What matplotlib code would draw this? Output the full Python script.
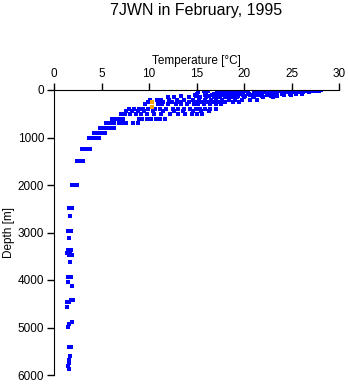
import matplotlib
matplotlib.use('Agg')
import matplotlib.pyplot as plt

plt.rcParams['font.family'] = ['Liberation Sans', 'DejaVu Sans']

# standard depth levels [m] and the temperatures seen at each [degC]
levels = [0, 10, 20, 30, 50, 75, 100, 125, 150, 200, 250, 300, 400, 450,
          500, 600, 700, 800, 900, 1000, 1250, 1500, 2000]
temps = [
    [17.6, 18.0, 18.4, 18.8, 19.2, 19.6, 20.0, 21.4, 22.6, 23.0, 23.8, 24.2,
     24.6, 25.0, 25.4, 25.8, 26.2, 26.6, 27.0, 27.4, 27.8, 28.1],
    [18.2, 18.6, 19.0, 19.4, 22.0, 23.3, 24.0, 24.8, 25.2, 25.6, 26.0, 26.4,
     26.8, 27.2, 27.6, 28.0],
    [15.8, 16.2, 18.0, 18.5, 19.3, 19.9, 21.2, 22.4, 23.6, 24.4, 25.0, 25.5,
     26.0, 26.5, 27.0, 27.5, 27.9],
    [17.5, 18.8, 19.5, 20.3, 22.8, 23.9, 25.2, 26.3, 27.3],
    [15.2, 16.0, 17.2, 17.7, 18.2, 18.7, 19.1, 19.6, 20.4, 21.0, 21.6, 22.2,
     22.9, 23.5, 24.1, 24.6, 25.1, 25.7, 26.2, 26.8],
    [15.0, 16.8, 17.4, 18.0, 18.6, 19.2, 19.8, 20.5, 21.3, 21.9, 22.5, 23.2,
     24.0, 24.8, 25.5, 26.1],
    [14.8, 15.9, 16.6, 17.1, 17.6, 18.1, 18.7, 19.3, 19.9, 20.6, 21.5, 22.4,
     23.4, 24.2, 24.9],
    [13.4, 14.9, 16.3, 17.0, 17.5, 18.2, 18.8, 19.4, 20.1, 20.9, 21.9, 22.8,
     23.5],
    [12.0, 12.6, 14.2, 15.4, 16.0, 16.8, 17.4, 18.0, 18.6, 19.3, 20.0, 21.0,
     22.0, 23.0],
    [10.1, 10.8, 11.3, 12.1, 12.9, 13.7, 14.6, 15.3, 15.9, 16.5, 17.1, 17.7,
     18.4, 19.1, 19.8, 20.6, 21.4],
    [9.9, 11.0, 11.5, 12.4, 13.3, 14.2, 14.9, 15.5, 16.1, 16.7, 17.3, 18.0,
     18.8, 19.5],
    [9.6, 10.9, 11.4, 12.0, 12.8, 13.4, 14.0, 14.7, 15.2, 15.8, 16.4, 17.0,
     17.6],
    [7.9, 8.4, 8.9, 9.4, 9.9, 10.6, 11.2, 11.8, 12.5, 13.1, 13.7, 14.3, 14.9,
     15.4, 15.9, 16.4, 17.0],
    [7.6, 8.2, 8.8, 9.5, 10.4, 11.5, 12.6, 13.6, 14.6, 15.5, 16.3],
    [7.0, 7.5, 8.0, 8.6, 9.2, 9.8, 10.5, 11.3, 12.2, 13.0, 13.8, 14.5, 15.1,
     15.6],
    [6.1, 6.5, 6.9, 7.3, 8.9, 9.3, 9.8, 10.2, 10.7, 11.2, 11.7],
    [5.5, 5.9, 6.3, 6.8, 7.2, 7.6, 8.3, 8.8],
    [4.8, 5.2, 5.6, 6.0, 6.3],
    [4.2, 4.6, 5.0, 5.4],
    [3.7, 4.0, 4.4, 4.7],
    [2.9, 3.2, 3.5, 3.8],
    [2.4, 2.7, 3.0],
    [1.9, 2.1, 2.4],
]

# deep bottle samples
deep_depth = [2480, 2480, 2650, 2970, 2970, 3120, 3370, 3370, 3430, 3430,
              3470, 3470, 3630, 3940, 3940, 4040, 4130, 4420, 4420, 4460,
              4460, 4560, 4880, 4930, 4980, 5400, 5400, 5610, 5680, 5740,
              5800, 5880]
deep_temp = [1.6, 1.9, 1.7, 1.5, 1.8, 1.6, 1.5, 1.8, 1.4, 1.7,
             1.6, 1.9, 1.7, 1.5, 1.8, 1.5, 1.9, 1.8, 2.0, 1.4,
             1.6, 1.4, 1.9, 1.6, 1.5, 1.6, 1.8, 1.7, 1.6, 1.6,
             1.5, 1.6]

# flagged samples
flag_temp = [10.3, 10.3]
flag_depth = [245, 360]

xs, ys = [], []
for d, tl in zip(levels, temps):
    for t in tl:
        xs.append(t)
        ys.append(d)
xs += deep_temp
ys += deep_depth

fig = plt.figure(figsize=(3.48, 3.84), dpi=100)
ax = fig.add_axes([54/348, 9/384, 285/348, 285/384])

ax.plot(xs, ys, 's', color='#0000ff', ms=2.5, mew=0)
ax.plot(flag_temp, flag_depth, 's', color='#ffa500', ms=2.5, mew=0)

ax.set_xlim(0, 30)
ax.set_ylim(6000, 0)
ax.xaxis.tick_top()
ax.xaxis.set_label_position('top')
ax.set_xticks(range(0, 31, 5))
ax.set_yticks(range(0, 6001, 1000))
ax.spines['right'].set_visible(False)
ax.spines['bottom'].set_visible(False)
ax.tick_params(direction='out', length=5, width=1, labelsize=8.5, pad=2)
ax.set_xlabel('Temperature [°C]', fontsize=8.5, labelpad=3)
ax.set_ylabel('Depth [m]', fontsize=8.5, labelpad=2)

fig.text(196/348, 1 - 11/384, '7JWN in February, 1995', ha='center',
         va='center', fontsize=11.5)

fig.savefig('out.png', dpi=100)
